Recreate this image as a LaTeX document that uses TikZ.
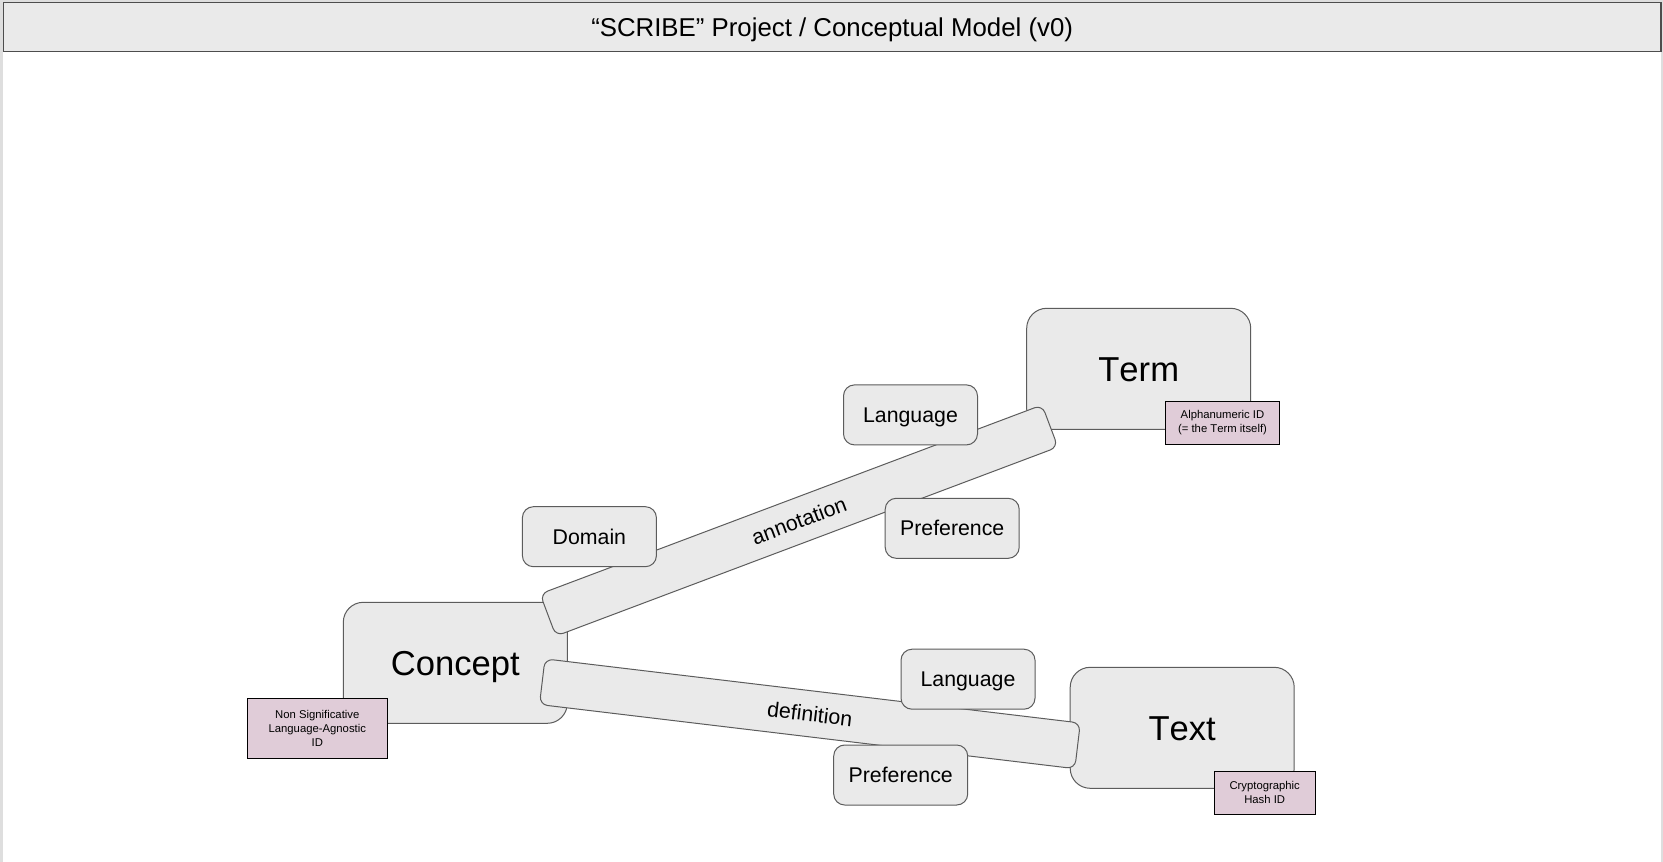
\documentclass[tikz,border=0pt]{standalone}
\usepackage{fontspec}
\setmainfont{Liberation Sans}[Kerning=Off]
\definecolor{boxgray}{HTML}{EAEAEA}
\definecolor{edgegray}{HTML}{5C5C5C}
\definecolor{idpink}{HTML}{E0CCD8}
\definecolor{framegray}{HTML}{DEDEDE}
\definecolor{titleedge}{HTML}{4D4D4D}
\begin{document}
\begin{tikzpicture}[x=1pt,y=-1pt,
  entity/.style={draw=edgegray, fill=boxgray, line width=1pt, rounded corners=20pt,
    minimum width=224pt, minimum height=121pt, inner sep=0pt,
    font=\fontsize{34.6}{40}\selectfont, text height=24.8pt, text depth=0pt},
  attrbox/.style={draw=edgegray, fill=boxgray, line width=1pt, rounded corners=11pt,
    minimum width=134pt, minimum height=60pt, inner sep=0pt,
    font=\fontsize{21.3}{25}\selectfont, text height=15.3pt, text depth=0pt},
  relbar/.style={draw=edgegray, fill=boxgray, line width=1pt, rounded corners=8pt,
    minimum height=45pt, inner sep=0pt,
    font=\fontsize{21.3}{25}\selectfont, text height=15.3pt, text depth=0pt},
  idbox/.style={draw=black, fill=idpink, line width=0.9pt, inner sep=0pt, align=center,
    font=\fontsize{11.3}{13.8}\selectfont},
]
\useasboundingbox (0,0) rectangle (1663,862);
\fill[framegray] (0,0) rectangle (1663,862);
\fill[white] (3,2) rectangle (1661,862);
\node[draw=titleedge, fill=boxgray, line width=1.3pt, minimum width=1657.7pt, minimum height=49pt,
  inner sep=0pt, font=\fontsize{25.8}{30}\selectfont, text height=18.5pt, text depth=0pt]
  (title) at (832.15,27) {“SCRIBE” Project / Conceptual Model (v0)};

% entities
\node[entity] (concept) at (455.3,662.8) {Concept};
\node[entity] (term) at (1138.7,368.8) {Term};
\node[entity] (text) at (1182.2,727.8) {Text};

% identifiers
\node[idbox, minimum width=140pt, minimum height=60pt] (conceptid) at (317.3,728.3)
  {Non Significative\\Language-Agnostic\\ID};
\node[idbox, minimum width=113.6pt, minimum height=43.3pt] (termid) at (1222.5,422.7)
  {Alphanumeric ID\\(= the Term itself)};
\node[idbox, minimum width=100.7pt, minimum height=43pt] (textid) at (1264.7,792.5)
  {Cryptographic\\Hash ID};

% relations
\node[relbar, minimum width=536.4pt, rotate=20.63] (annotation) at (799,520.5) {annotation};
\node[relbar, minimum width=539.2pt, minimum height=46pt, rotate=-6.83] (definition) at (809.9,713.75) {definition};

% attributes
\node[attrbox] (domain) at (589.4,536.7) {Domain};
\node[attrbox] (langA) at (910.5,414.9) {Language};
\node[attrbox] (prefA) at (952.2,528.3) {Preference};
\node[attrbox] (langD) at (968,679.2) {Language};
\node[attrbox] (prefD) at (900.7,775) {Preference};
\end{tikzpicture}
\end{document}
